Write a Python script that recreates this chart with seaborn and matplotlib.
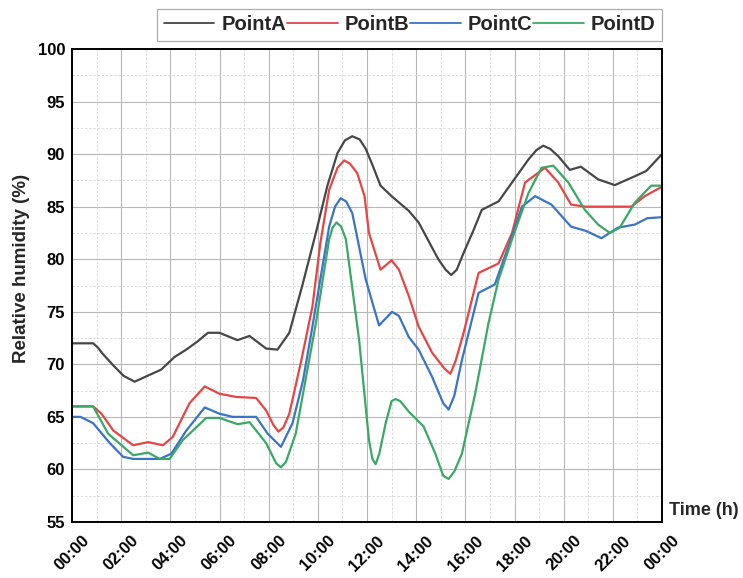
import numpy as np
import pandas as pd
import seaborn as sns
import matplotlib
matplotlib.use("Agg")
import matplotlib.pyplot as plt
from matplotlib.ticker import MultipleLocator
from matplotlib.lines import Line2D

# ---------------- data ----------------
series_names = ["PointA", "PointB", "PointC", "PointD"]
colors = ["#474747", "#e64545", "#3a74c4", "#3aa866"]

a_hours = [0, 0.5, 0.86, 1.05, 1.25, 1.68, 2.1, 2.55, 3.16, 3.63, 4.17, 4.65, 5.12, 5.53, 6.0,
           6.73, 7.22, 7.9, 8.36, 8.84, 9.38, 9.92, 10.39, 10.8, 11.1, 11.4, 11.7, 11.95,
           12.25, 12.55, 13.0, 13.3, 13.7, 14.1, 14.9, 15.2, 15.43, 15.65, 15.93, 16.34,
           16.67, 17.35, 17.9, 18.57, 18.9, 19.17, 19.45, 19.78, 20.25, 20.7, 21.4, 22.08,
           22.9, 23.36, 24.0]
a_vals = [72.0, 72.0, 72.0, 71.6, 71.0, 69.9, 68.9, 68.35, 69.0, 69.5, 70.7, 71.4, 72.2, 73.0, 73.0,
          72.3, 72.7, 71.5, 71.4, 73.0, 77.6, 82.5, 87.0, 90.1, 91.3, 91.7, 91.4, 90.5,
          88.8, 87.0, 86.0, 85.4, 84.6, 83.5, 80.0, 79.0, 78.5, 79.0, 80.6, 82.8,
          84.7, 85.5, 87.3, 89.5, 90.4, 90.8, 90.5, 89.8, 88.5, 88.8, 87.6, 87.05,
          87.9, 88.4, 90.0]

b_hours = [0, 0.86, 1.2, 1.68, 2.49, 3.1, 3.7, 4.1, 4.78, 5.4, 6.0, 6.68, 7.49, 7.9,
           8.2, 8.4, 8.6, 8.84, 9.33, 9.78, 10.1, 10.46, 10.8, 11.07, 11.3, 11.6, 11.9,
           12.08, 12.55, 13.0, 13.3, 13.7, 14.1, 14.65, 15.15, 15.39, 15.6, 15.93, 16.54,
           17.35, 17.9, 18.43, 19.24, 19.78, 20.3, 20.9, 22.75, 23.3, 24.0]
b_vals = [66.0, 66.0, 65.3, 63.7, 62.3, 62.6, 62.3, 63.1, 66.3, 67.9, 67.2, 66.9, 66.8, 65.6,
          64.2, 63.6, 64.0, 65.3, 70.4, 75.5, 81.5, 86.6, 88.7, 89.4, 89.1, 88.2, 86.0,
          82.5, 79.0, 79.9, 79.0, 76.5, 73.6, 71.1, 69.6, 69.1, 70.3, 73.0, 78.7,
          79.6, 82.5, 87.3, 88.7, 87.3, 85.2, 85.0, 85.0, 86.0, 86.9]

c_hours = [0, 0.35, 0.86, 1.54, 2.08, 2.5, 3.57, 4.04, 4.65, 5.4, 6.0, 6.54, 7.49, 7.96,
           8.5, 8.97, 9.4, 9.78, 10.46, 10.7, 10.93, 11.15, 11.4, 11.95, 12.49, 13.02,
           13.3, 13.7, 14.1, 14.65, 15.1, 15.32, 15.55, 15.86, 16.54, 17.2, 17.75, 18.3,
           18.84, 19.5, 20.3, 20.9, 21.54, 22.2, 22.9, 23.4, 24.0]
c_vals = [65.0, 65.0, 64.4, 62.5, 61.2, 61.0, 61.0, 61.5, 63.7, 65.9, 65.3, 65.0, 65.0, 63.4,
          62.15, 64.4, 68.5, 73.6, 83.1, 85.0, 85.8, 85.5, 84.4, 78.05, 73.7, 75.0,
          74.6, 72.6, 71.4, 68.8, 66.3, 65.7, 67.0, 70.4, 76.8, 77.6, 81.2, 85.0,
          86.0, 85.2, 83.1, 82.7, 82.0, 83.0, 83.3, 83.9, 84.0]

d_hours = [0, 0.86, 1.47, 2.49, 3.1, 3.57, 3.97, 4.51, 5.46, 6.0, 6.74, 7.22, 7.9, 8.3,
           8.5, 8.7, 9.1, 9.92, 10.46, 10.6, 10.76, 10.95, 11.14, 11.68, 12.08, 12.22,
           12.35, 12.5, 12.76, 13.0, 13.16, 13.35, 13.7, 14.3, 14.78, 15.1, 15.32, 15.55,
           15.86, 16.4, 16.94, 17.35, 17.9, 18.57, 19.1, 19.58, 20.19, 20.86, 21.4, 21.88,
           22.28, 22.9, 23.56, 24.0]
d_vals = [66.0, 66.0, 63.4, 61.35, 61.6, 61.0, 61.0, 62.8, 64.9, 64.9, 64.3, 64.5, 62.5, 60.6,
          60.2, 60.7, 63.4, 73.9, 81.9, 83.0, 83.5, 83.1, 81.9, 72.3, 62.8, 61.0,
          60.5, 61.5, 64.4, 66.5, 66.7, 66.5, 65.5, 64.1, 61.5, 59.4, 59.1, 59.8,
          61.5, 67.2, 73.9, 78.05, 81.9, 86.3, 88.7, 88.9, 87.3, 84.7, 83.3, 82.5,
          83.0, 85.4, 87.0, 87.0]

x_tick_pos = list(range(0, 25, 2))
x_tick_labels = ["00:00", "02:00", "04:00", "06:00", "08:00", "10:00", "12:00",
                 "14:00", "16:00", "18:00", "20:00", "22:00", "00:00"]
y_ticks = [55, 60, 65, 70, 75, 80, 85, 90, 95, 100]

# ---------------- build long-form table ----------------
frames = []
for name, hrs, vals in zip(series_names, [a_hours, b_hours, c_hours, d_hours],
                           [a_vals, b_vals, c_vals, d_vals]):
    frames.append(pd.DataFrame({"hour": hrs, "rh": vals, "series": name}))
df = pd.concat(frames, ignore_index=True)

# ---------------- plotting ----------------
sns.set_style("white")
plt.rcParams["font.family"] = ["Liberation Sans", "DejaVu Sans"]
plt.rcParams["font.weight"] = "bold"

fig = plt.figure(figsize=(7.43, 5.78), dpi=100)
ax = fig.add_axes([72 / 743, 56 / 578, (662 - 72) / 743, (522 - 49) / 578])

sns.lineplot(data=df, x="hour", y="rh", hue="series", hue_order=series_names,
             palette=colors, estimator=None, sort=True, linewidth=1.6, ax=ax,
             legend=False)
for ln in ax.get_lines():
    ln.set_solid_joinstyle("round")

ax.set_xlim(0, 24)
ax.set_ylim(55, 100)
ax.set_xticks(x_tick_pos)
ax.set_xticklabels(x_tick_labels, rotation=45, ha="center",
                   fontsize=12, fontweight="bold")
ax.xaxis.set_minor_locator(MultipleLocator(1))
ax.set_yticks(y_ticks)
ax.set_yticklabels([str(v) for v in y_ticks], fontsize=12, fontweight="bold")
ax.yaxis.set_minor_locator(MultipleLocator(2.5))

ax.grid(which="major", color="#b8b8b8", linestyle="-", linewidth=0.8)
ax.grid(which="minor", color="#d6d6d6", linestyle=(0, (3, 2)), linewidth=0.6)
ax.set_axisbelow(True)

ax.tick_params(axis="both", which="major", direction="in", length=6, width=1.0,
               colors="black")
ax.tick_params(axis="y", which="major", pad=5)
ax.tick_params(axis="y", which="minor", direction="in", length=3, width=0.8)
ax.tick_params(axis="x", which="minor", length=0)
ax.tick_params(axis="x", which="major", pad=8)

for sp in ax.spines.values():
    sp.set_visible(True)
    sp.set_color("black")
    sp.set_linewidth(1.4)

ax.set_xlabel("")
ax.set_ylabel("Relative humidity (%)", fontsize=13.5, fontweight="bold")
ax.yaxis.set_label_coords(-0.071, 0.537)
ax.text(1.012, 0.007, "Time (h)", transform=ax.transAxes, ha="left", va="bottom",
        fontsize=13, fontweight="bold")

handles = [Line2D([0], [0], color=c, lw=1.3) for c in colors]
leg = ax.legend(handles, series_names, loc="lower right", bbox_to_anchor=(1.0, 1.017),
                ncol=4, frameon=True, fancybox=False, borderaxespad=0,
                handlelength=2.5, handletextpad=0.35, columnspacing=0.05,
                borderpad=0.33, prop={"size": 14.5, "weight": "bold"})
leg.get_frame().set_edgecolor("#999999")
leg.get_frame().set_linewidth(0.9)

fig.savefig("out.png", dpi=100)
